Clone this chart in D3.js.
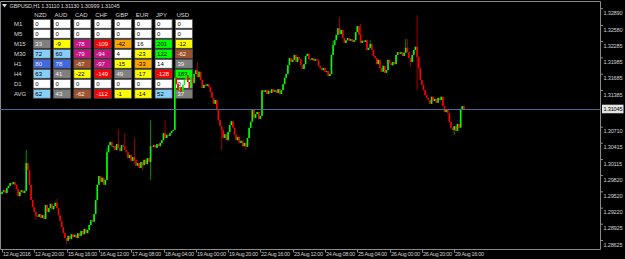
<!DOCTYPE html>
<html>
<head>
<meta charset="utf-8">
<script src="https://cdn.jsdelivr.net/npm/d3@7"></script>
<style>
html, body { margin: 0; padding: 0; background: #000; }
svg { display: block; }
text { font-family: "Liberation Sans", Arial, sans-serif; }
</style>
</head>
<body>
<div id="chart"></div>
<script>
// GBPUSD H1 closes, one per bar (open = previous close)
const firstOpen = 1.2948
const closes = [
    1.2952, 1.2955, 1.2950, 1.2959, 1.2963, 1.2968, 1.2966, 1.2970, 1.2965,
    1.2957, 1.2944, 1.2952, 1.2955, 1.2950, 1.2954,
    1.3005,
    1.2992, 1.2965, 1.2937, 1.2924,
    1.2915, 1.2908,
    1.2906, 1.2911, 1.2904, 1.2909, 1.2902,
    1.2928, 1.2915, 1.2922,
    1.2930, 1.2920, 1.2926, 1.2932, 1.2922,
    1.2909, 1.2898, 1.2887,
    1.2876, 1.2867, 1.2862,
    1.2871, 1.2865, 1.2874, 1.2869, 1.2873, 1.2867, 1.2876, 1.2871,
    1.2880, 1.2874, 1.2884, 1.2876, 1.2882,
    1.2891, 1.2900, 1.2897, 1.2911,
    1.2937, 1.2965, 1.2981,
    1.2970, 1.2978, 1.2965, 1.2974,
    1.3025,
    1.3038, 1.3044, 1.3035,
    1.3036, 1.3029, 1.3040, 1.3033, 1.3027, 1.3038, 1.3035, 1.3029,
    1.3025, 1.3014, 1.3020, 1.3009, 1.3016,
    1.3011, 1.3000, 1.3005, 1.2996, 1.3007, 1.3001,
    1.3011, 1.3003, 1.3014, 1.3007,
    1.3036,
    1.3035, 1.3038, 1.3033, 1.3040, 1.3036, 1.3042,
    1.3047,
    1.3060, 1.3051, 1.3057,
    1.3055, 1.3060, 1.3064, 1.3066,
    1.3162,
    1.3150, 1.3139, 1.3145, 1.3136,
    1.3149, 1.3158, 1.3167, 1.3154, 1.3143, 1.3162, 1.3152,
    1.3169, 1.3176, 1.3163, 1.3173,
    1.3158, 1.3143, 1.3149,
    1.3147, 1.3150, 1.3145,
    1.3136, 1.3125, 1.3114, 1.3121,
    1.3103, 1.3084, 1.3073,
    1.3066, 1.3051, 1.3058, 1.3047, 1.3062,
    1.3075, 1.3082,
    1.3070, 1.3057, 1.3047, 1.3053, 1.3042,
    1.3046, 1.3036, 1.3042, 1.3035,
    1.3051, 1.3070, 1.3081,
    1.3103, 1.3088, 1.3095,
    1.3099, 1.3086, 1.3092,
    1.3139,
    1.3136, 1.3139, 1.3132, 1.3138, 1.3134, 1.3141, 1.3136, 1.3139,
    1.3134, 1.3141, 1.3132, 1.3139,
    1.3150, 1.3162, 1.3169,
    1.3185, 1.3198, 1.3191,
    1.3195, 1.3204, 1.3191, 1.3200, 1.3196, 1.3185, 1.3178, 1.3187, 1.3202, 1.3206, 1.3196,
    1.3195, 1.3198, 1.3193, 1.3196, 1.3195,
    1.3184, 1.3180,
    1.3176, 1.3180, 1.3173, 1.3174, 1.3165,
    1.3169,
    1.3204, 1.3222,
    1.3231, 1.3241, 1.3253,
    1.3242, 1.3250,
    1.3235, 1.3226,
    1.3231, 1.3235, 1.3230, 1.3233, 1.3228, 1.3231,
    1.3246, 1.3257,
    1.3241, 1.3226,
    1.3230, 1.3228, 1.3231,
    1.3213, 1.3217,
    1.3224, 1.3213, 1.3202,
    1.3198, 1.3187, 1.3195,
    1.3180, 1.3173, 1.3184, 1.3171, 1.3176,
    1.3195,
    1.3189, 1.3185, 1.3191, 1.3187,
    1.3204, 1.3209,
    1.3206, 1.3209, 1.3202, 1.3208,
    1.3217, 1.3209,
    1.3198, 1.3191,
    1.3204, 1.3213, 1.3219,
    1.3200,
    1.3180, 1.3158,
    1.3149, 1.3139,
    1.3130, 1.3125,
    1.3121, 1.3114, 1.3127,
    1.3119, 1.3123, 1.3116,
    1.3125, 1.3121, 1.3127,
    1.3110, 1.3099,
    1.3103, 1.3097,
    1.3081, 1.3070,
    1.3066, 1.3073, 1.3064,
    1.3077, 1.3070,
    1.3103,
    1.3110,
    1.31045
]

// bars whose shadows reach past the body
const wickBars = [15, 21, 34, 40, 65, 72, 76, 82, 87, 92, 101, 107, 121, 136, 151, 205, 209, 222, 228, 250, 251, 253, 257, 280]
const wickHighs = [1.3029, null, 1.2939, null, 1.3033, 1.3068, 1.3060, 1.3051, null, 1.3084, 1.3084, 1.3176, 1.3191, null, null, 1.3231, 1.3274, 1.3261, 1.3231, 1.3233, 1.3233, null, 1.3277, null]
const wickLows = [null, 1.2900, null, 1.2856, null, null, null, 1.3005, 1.2992, 1.2974, null, null, null, 1.3029, 1.3029, null, null, null, null, null, null, 1.3182, 1.3139, 1.3057]

const timeLabels = ["12 Aug 2016", "12 Aug 20:00", "15 Aug 16:00", "16 Aug 12:00", "17 Aug 08:00",
    "18 Aug 04:00", "19 Aug 00:00", "19 Aug 20:00", "22 Aug 16:00", "23 Aug 12:00",
    "24 Aug 08:00", "25 Aug 04:00", "26 Aug 00:00", "26 Aug 20:00", "29 Aug 16:00"]
const timeLabelStep = 20

const priceTicks = [1.32890, 1.32580, 1.32285, 1.31985, 1.31685, 1.31385, 1.30710,
    1.30415, 1.30115, 1.29820, 1.29520, 1.29220, 1.28925, 1.28625]
const bid = 1.31045
const title = "GBPUSD,H1  1.31110 1.31130 1.30999 1.31045"

// currency strength panel
const currencies = ["NZD", "AUD", "CAD", "CHF", "GBP", "EUR", "JPY", "USD"]
const periods = ["M1", "M5", "M15", "M30", "H1", "H4", "D1", "AVG"]
const rowM1 = [0, 0, 0, 0, 0, 0, 0, 0]
const rowM5 = [0, 0, 0, 0, 0, 0, 0, 0]
const rowM15 = [33, -9, -78, -109, -42, 16, 201, -12]
const rowM30 = [72, 60, -79, -94, 4, -23, 122, -62]
const rowH1 = [80, 78, -67, -97, -15, -33, 14, 39]
const rowH4 = [63, 41, -22, -149, 49, -17, -128, 183]
const rowD1 = [0, 0, 0, 0, 0, 0, 0, 0]
const rowAVG = [62, 43, -62, -112, -1, -14, 52, 37]
const rows = [rowM1, rowM5, rowM15, rowM30, rowH1, rowH4, rowD1, rowAVG]

var width = 625
var height = 259
var plotRight = 600.5
var plotBottom = 249.5

const svg = d3.select("#chart")
    .append("svg")
    .attr("width", width)
    .attr("height", height)
    .style("background", "#000")

var xScale = d3.scaleLinear()
    .domain([0, closes.length - 1])
    .range([2, 463.9])

var yScale = d3.scaleLinear()
    .domain([1.28625, 1.32890])
    .range([240.5, 8.7])

// frame
svg.append("path")
    .attr("d", "M0.5,249.5 V1.5 H" + plotRight + " V" + plotBottom + " H0.5")
    .attr("fill", "none")
    .attr("stroke", "#8a8a8a")
    .attr("stroke-width", 1)

// title
svg.append("path")
    .attr("d", "M2,4 L7,4 L4.5,7.5 Z")
    .attr("fill", "#d8d8d8")
svg.append("text")
    .attr("x", 9.5)
    .attr("y", 8.4)
    .attr("fill", "#d8d8d8")
    .style("font-size", "5.5px")
    .style("letter-spacing", "-0.15px")
    .text(title)

// time axis
const timeAxis = svg.append("g")
timeLabels.forEach((lab, k) => {
    var tx = Math.round(xScale(k * timeLabelStep)) + 0.5
    timeAxis.append("line")
        .attr("x1", tx).attr("x2", tx)
        .attr("y1", plotBottom).attr("y2", plotBottom + 3)
        .attr("stroke", "#8a8a8a")
    timeAxis.append("text")
        .attr("x", tx + 0.5)
        .attr("y", 255.8)
        .attr("fill", "#d0d0d0")
        .style("font-size", "5.5px")
        .style("letter-spacing", "-0.3px")
        .text(lab)
})

// price axis
const priceAxis = svg.append("g")
priceTicks.forEach(p => {
    var ty = yScale(p)
    priceAxis.append("line")
        .attr("x1", plotRight).attr("x2", plotRight + 2.5)
        .attr("y1", ty).attr("y2", ty)
        .attr("stroke", "#8a8a8a")
    priceAxis.append("text")
        .attr("x", 603.5)
        .attr("y", ty + 6.1)
        .attr("fill", "#d0d0d0")
        .style("font-size", "5.6px")
        .style("letter-spacing", "-0.2px")
        .text(p.toFixed(5))
})

// strength panel
var cellColor = d3.scaleThreshold()
    .domain([-99.5, -74.5, -49.5, -24.5, 0, 25, 50, 75, 100])
    .range(["#ff0000", "#c71585", "#a0522d", "#ffa500", "#ffff00", "#ffffff", "#808080", "#87cefa", "#4169e1", "#00ff00"])
var darkCells = ["#ff0000", "#c71585", "#a0522d", "#808080", "#4169e1"]

var cellX = i => 33.3 + i * 20.3
var cellY = j => 19.5 + j * 10

const panel = svg.append("g")
currencies.forEach((c, i) => {
    panel.append("text")
        .attr("x", cellX(i) + 1)
        .attr("y", 17.3)
        .attr("fill", "#d8d8d8")
        .style("font-size", "6px")
        .text(c)
})
periods.forEach((p, j) => {
    panel.append("text")
        .attr("x", 14)
        .attr("y", cellY(j) + 6.6)
        .attr("fill", "#d8d8d8")
        .style("font-size", "6px")
        .text(p)
    rows[j].forEach((v, i) => {
        var col = cellColor(v)
        panel.append("rect")
            .attr("x", cellX(i))
            .attr("y", cellY(j))
            .attr("width", 17)
            .attr("height", 8.7)
            .attr("fill", col)
            .attr("stroke", "#5a5a5a")
            .attr("stroke-width", 0.7)
        panel.append("text")
            .attr("x", cellX(i) + 2)
            .attr("y", cellY(j) + 6.6)
            .attr("fill", darkCells.includes(col) ? "#f0f0f0" : "#000")
            .style("font-size", "6px")
            .text(v)
    })
})

// candles
var bars = closes.map((c, i) => {
    var o = i === 0 ? firstOpen : closes[i - 1]
    var w = wickBars.indexOf(i)
    var hi = Math.max(o, c, w >= 0 && wickHighs[w] !== null ? wickHighs[w] : -Infinity)
    var lo = Math.min(o, c, w >= 0 && wickLows[w] !== null ? wickLows[w] : Infinity)
    return { i: i, o: o, c: c, h: hi, l: lo, up: c >= o }
})

const candles = svg.append("g")
candles.selectAll("line.wick")
    .data(bars)
    .enter()
    .append("line")
    .attr("class", "wick")
    .attr("x1", d => xScale(d.i))
    .attr("x2", d => xScale(d.i))
    .attr("y1", d => yScale(d.h))
    .attr("y2", d => yScale(d.l))
    .attr("stroke", d => d.up ? "#00a000" : "#b00000")
    .attr("stroke-width", 0.9)
candles.selectAll("rect.body")
    .data(bars)
    .enter()
    .append("rect")
    .attr("class", "body")
    .attr("x", d => xScale(d.i) - 0.8)
    .attr("width", 1.6)
    .attr("y", d => yScale(Math.max(d.o, d.c)))
    .attr("height", d => Math.max(1, Math.abs(yScale(d.o) - yScale(d.c))))
    .attr("fill", d => d.up ? "#00ff00" : "#ff0000")

// bid line + label
svg.append("line")
    .attr("x1", 0).attr("x2", plotRight)
    .attr("y1", Math.round(yScale(bid)) + 0.5).attr("y2", Math.round(yScale(bid)) + 0.5)
    .attr("stroke", "#4d6a96")
    .attr("stroke-width", 1)
svg.append("rect")
    .attr("x", 602)
    .attr("y", yScale(bid) - 4.3)
    .attr("width", 21.5)
    .attr("height", 8.6)
    .attr("fill", "#e4e4e4")
svg.append("text")
    .attr("x", 603.5)
    .attr("y", yScale(bid) + 2.3)
    .attr("fill", "#000")
    .style("font-size", "5.6px")
    .style("letter-spacing", "-0.2px")
    .text(bid.toFixed(5))
</script>
</body>
</html>
